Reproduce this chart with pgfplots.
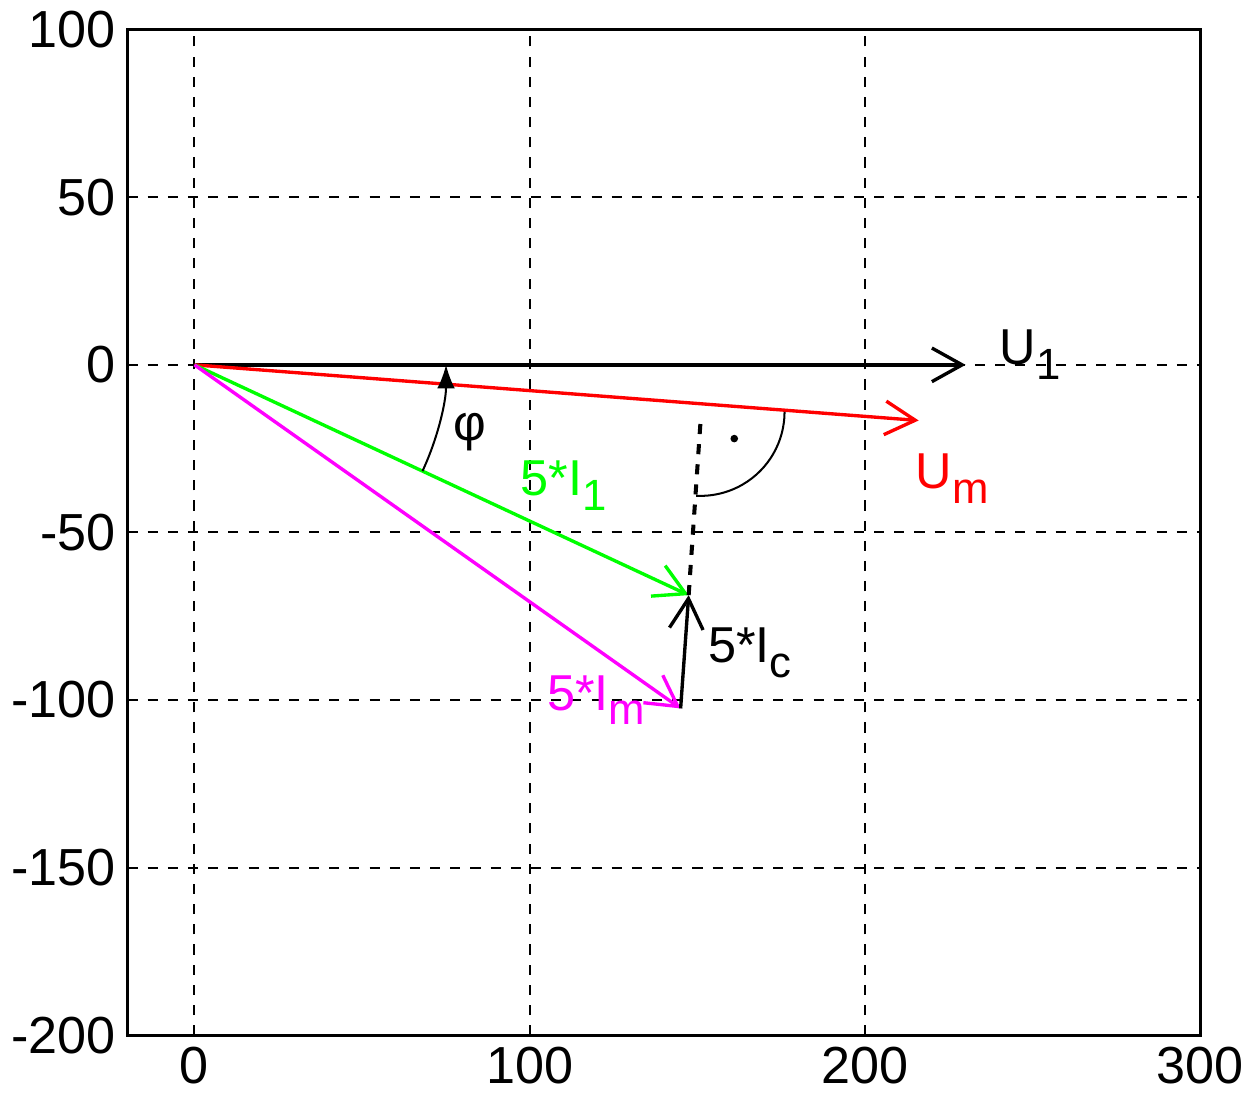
\documentclass[border=0pt]{standalone}
\usepackage{fontspec}
\setmainfont{Liberation Sans}
\usepackage{pgfplots}
\pgfplotsset{compat=1.18}
\usetikzlibrary{arrows.meta}
\definecolor{mag}{RGB}{255,0,255}
\definecolor{grn}{RGB}{0,255,0}
\newcommand{\sub}[1]{\raisebox{-0.55ex}{\fontsize{13}{14}\selectfont #1}}
\begin{document}
\begin{tikzpicture}
\begin{axis}[scale only axis, width=319pt, height=299pt,
  xmin=-20, xmax=300, ymin=-200, ymax=100,
  xtick={0,100,200,300}, ytick={-200,-150,...,100},
  grid=major, major grid style={black, dashed, line width=0.6pt},
  major tick length=0pt, axis line style={line width=0.8pt},
  tick label style={font=\fontsize{15.5}{17}\selectfont},
  /pgf/number format/assume math mode=true,
  clip=false,
  every axis plot/.append style={line width=1pt}]
\addplot[black, -{Straight Barb[length=9pt,width=10pt]}] coordinates {(0,0) (230,0)};
\addplot[red, -{Straight Barb[length=9pt,width=10pt]}] coordinates {(0,0) (216,-16.6)};
\addplot[grn, -{Straight Barb[length=9pt,width=10pt]}] coordinates {(0,0) (147.4,-68.7)};
\addplot[mag, -{Straight Barb[length=9pt,width=10pt]}] coordinates {(0,0) (145,-102.5)};
\addplot[black, -{Straight Barb[length=9pt,width=10pt]}] coordinates {(145,-102.5) (147.4,-68.7)};
\addplot[black, dashed, line width=1.2pt] coordinates {(147.4,-68.7) (151,-16)};
\draw[black, line width=0.6pt, -{Latex[length=7pt]}] (axis cs:68,-31.7) arc[start angle=-25, end angle=0, radius=74.8pt];
\draw[black, line width=0.6pt] (axis cs:176,-14) arc[start angle=0, end angle=-93, radius=25pt];
\node[circle, fill=black, inner sep=0.8pt] at (axis cs:161,-22) {};
\tikzset{lab/.style={font=\fontsize{15}{17}\selectfont, anchor=west, inner sep=0pt}}
\node[lab] at (axis cs:240,3) {U\sub{1}};
\node[lab, red] at (axis cs:215,-34) {U\sub{m}};
\node[lab, grn] at (axis cs:97,-36) {5*I\sub{1}};
\node[lab, mag] at (axis cs:105,-100) {5*I\sub{m}};
\node[lab] at (axis cs:153,-86) {5*I\sub{c}};
\node[lab] at (axis cs:77,-20) {φ};
\end{axis}
\end{tikzpicture}
\end{document}
